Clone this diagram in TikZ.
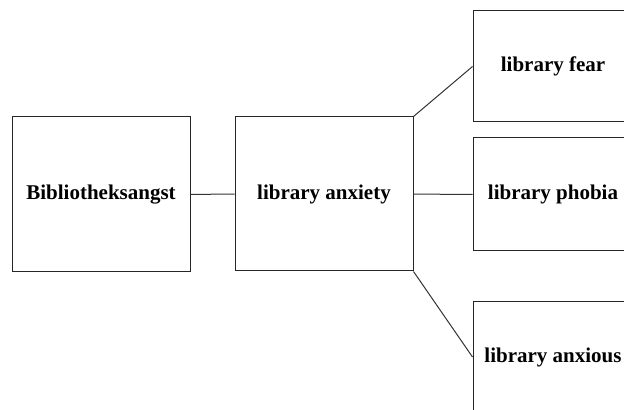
\documentclass[tikz,border=0pt]{standalone}
\usepackage{fontspec}
\setmainfont{Liberation Serif}
\usetikzlibrary{positioning}
\tikzset{x=0.5pt, y=-0.5pt,
every box/.style={ % Sets the properties for each term box
draw=black!85,
line width=0.5pt,
rectangle,
inner sep=0pt,
font=\fontsize{10.5}{12}\selectfont\bfseries},
side box/.style={ % Boxes on the right, cut off by the page edge
every box,
minimum width=80pt,
minimum height=55.5pt},
every link/.style={ % Sets the properties for each connector
draw=black!80,
line width=0.5pt}}
\begin{document}
\begin{tikzpicture}
	\clip (0,0) rectangle (624,410);
	\node[every box, minimum width=89pt, minimum height=77.5pt] (ang) at (101,194.5) {Bibliotheksangst};
	\node[every box, minimum width=89pt, minimum height=77pt] (anx) at (324,194) {library anxiety};
	\node[side box] (fear) at (553,66.5) {library fear};
	\node[side box, minimum height=56.5pt] (phob) at (553,194.5) {library phobia};
	\node[side box] (anxs) at (553,357) {library anxious};
	\draw[every link] (ang) -- (anx);
	\draw[every link] (anx.north east) -- (fear.west);
	\draw[every link] (anx) -- (phob);
	\draw[every link] (anx.south east) -- (anxs.west);
\end{tikzpicture}
\end{document}
